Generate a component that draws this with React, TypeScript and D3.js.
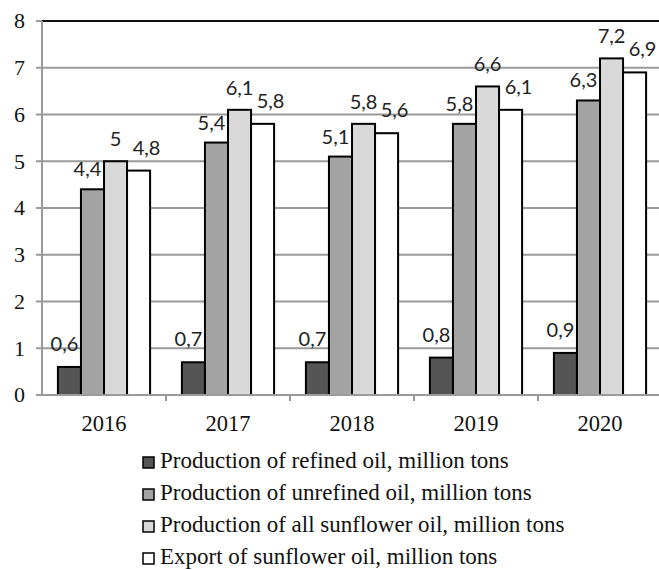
import React from "react";
import * as d3 from "d3";

const years = ["2016", "2017", "2018", "2019", "2020"];
const refined = [0.6, 0.7, 0.7, 0.8, 0.9];
const unrefined = [4.4, 5.4, 5.1, 5.8, 6.3];
const allOil = [5, 6.1, 5.8, 6.6, 7.2];
const exportOil = [4.8, 5.8, 5.6, 6.1, 6.9];
const seriesNames = [
  "Production of refined oil, million tons",
  "Production of unrefined oil, million tons",
  "Production of all sunflower oil, million tons",
  "Export of sunflower oil, million tons",
];
const yTicks = [0, 1, 2, 3, 4, 5, 6, 7, 8];

const series = [refined, unrefined, allOil, exportOil];
const colors = ["#555555", "#a3a3a3", "#d9d9d9", "#ffffff"];
const labelDx = [-5, -5, 0, 8];
const labelGap = [16, 13, 15, 16];

const W = 659;
const H = 570;
const left = 42;
const plotRight = 662;
const top = 21;
const bottom = 395;

export default function App() {
  const x = d3.scaleBand<string>().domain(years).range([left, plotRight]).paddingInner(0).paddingOuter(0);
  const inner = d3
    .scaleBand<number>()
    .domain([0, 1, 2, 3])
    .range([0, x.bandwidth()])
    .paddingOuter(0.69)
    .paddingInner(0);
  const y = d3.scaleLinear().domain([0, 8]).range([bottom, top]);
  const fmt = (v: number) => String(v).replace(".", ",");
  const serif = "'Liberation Serif', 'Times New Roman', serif";
  const sans = "Lato, 'Open Sans', sans-serif";

  return (
    <svg
      width={W}
      height={H}
      style={{ position: "absolute", left: 0, top: 0, background: "#fff" }}
    >
      {/* gridlines */}
      {yTicks.map((t) => (
        <g key={t}>
          <line
            x1={left}
            x2={W}
            y1={y(t)}
            y2={y(t)}
            stroke={t === 8 ? "#111" : "#9a9a9a"}
            strokeWidth={2}
          />
          <line x1={left - 6} x2={left} y1={y(t)} y2={y(t)} stroke="#9a9a9a" strokeWidth={2} />
          <text
            x={25}
            y={y(t)}
            dy="0.34em"
            textAnchor="end"
            fontFamily={serif}
            fontSize={22}
            fill="#111"
          >
            {t}
          </text>
        </g>
      ))}
      {/* y axis */}
      <line x1={left} x2={left} y1={top} y2={bottom} stroke="#9a9a9a" strokeWidth={2} />
      {/* bars */}
      {years.map((yr, i) => (
        <g key={yr} transform={`translate(${x(yr)},0)`}>
          {series.map((s, k) => (
            <rect
              key={k}
              x={inner(k)}
              y={y(s[i])}
              width={inner.bandwidth()}
              height={y(0) - y(s[i])}
              fill={colors[k]}
              stroke="#000"
              strokeWidth={2}
            />
          ))}
          {series.map((s, k) => (
            <text
              key={"l" + k}
              x={(inner(k) as number) + inner.bandwidth() / 2 + labelDx[k]}
              y={y(s[i]) - labelGap[k]}
              textAnchor="middle"
              fontFamily={sans}
              fontSize={20}
              fill="#222"
            >
              {fmt(s[i])}
            </text>
          ))}
        </g>
      ))}
      {/* x axis */}
      <line x1={left} x2={W} y1={bottom} y2={bottom} stroke="#9a9a9a" strokeWidth={2} />
      {years.map((yr) => (
        <g key={"t" + yr}>
          <line
            x1={(x(yr) as number) + x.bandwidth()}
            x2={(x(yr) as number) + x.bandwidth()}
            y1={bottom}
            y2={bottom + 6}
            stroke="#9a9a9a"
            strokeWidth={2}
          />
          <text
            x={(x(yr) as number) + x.bandwidth() / 2}
            y={431}
            textAnchor="middle"
            fontFamily={serif}
            fontSize={22.5}
            fill="#111"
          >
            {yr}
          </text>
        </g>
      ))}
      {/* legend */}
      {seriesNames.map((n, k) => (
        <g key={n} transform={`translate(143, ${468 + k * 32})`}>
          <rect x={0} y={-11} width={11} height={11} fill={colors[k]} stroke="#000" strokeWidth={1.5} />
          <text x={17} y={0} fontFamily={serif} fontSize={23} fill="#111">
            {n}
          </text>
        </g>
      ))}
    </svg>
  );
}
